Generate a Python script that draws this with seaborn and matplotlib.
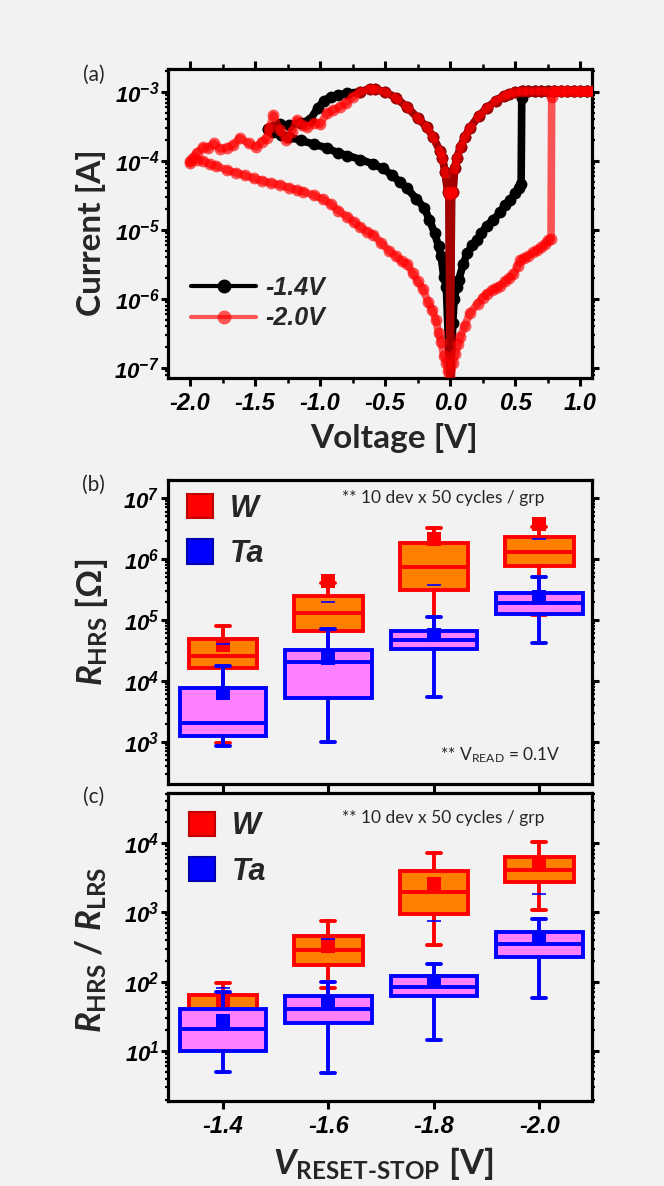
import numpy as np
import pandas as pd
import matplotlib
matplotlib.use("Agg")
import matplotlib.pyplot as plt
import seaborn as sns
from matplotlib.patches import Patch
from matplotlib.lines import Line2D
from matplotlib.ticker import FuncFormatter, LogLocator, MultipleLocator, FixedLocator, NullFormatter

# ---------------- (a) I-V sweeps ----------------
# -1.4V reset stop (black): reset sweep, HRS return, set sweep
blk_reset_v = [0.0, -0.01, -0.02, -0.04, -0.06, -0.08, -0.13, -0.18, -0.25, -0.33, -0.42, -0.50,
               -0.58, -0.62, -0.69, -0.79, -0.86, -0.92, -0.97, -1.02, -1.08, -1.15, -1.24, -1.31,
               -1.36, -1.40]
blk_reset_i = [5e-8, 3.3e-5, 3.6e-5, 7.0e-5, 1.1e-4, 1.4e-4, 2.2e-4, 3.1e-4, 4.2e-4, 6.0e-4, 8.3e-4, 1.0e-3,
               1.1e-3, 1.12e-3, 1.0e-3, 9.6e-4, 9.0e-4, 8.5e-4, 7.5e-4, 5.8e-4, 3.9e-4, 3.6e-4, 3.3e-4, 3.4e-4,
               3.1e-4, 2.9e-4]
blk_hrs_v = [-1.40, -1.36, -1.30, -1.24, -1.15, -1.05, -0.95, -0.86, -0.79, -0.69, -0.59, -0.52, -0.45,
             -0.39, -0.33, -0.26, -0.20, -0.16, -0.12, -0.09, -0.07, -0.05, -0.03, 0.0]
blk_hrs_i = [2.9e-4, 2.6e-4, 2.4e-4, 2.2e-4, 2.0e-4, 1.75e-4, 1.55e-4, 1.3e-4, 1.2e-4, 1.05e-4, 9.0e-5, 7.8e-5,
             6.3e-5, 5.0e-5, 4.0e-5, 2.8e-5, 2.1e-5, 1.4e-5, 9e-6, 5.8e-6, 4.2e-6, 2.1e-6, 1.5e-6, 5e-8]
blk_set_v = [0.0, 0.02, 0.03, 0.05, 0.065, 0.10, 0.13, 0.17, 0.205, 0.24, 0.28, 0.33, 0.385, 0.42, 0.46,
             0.50, 0.53, 0.545, 0.55, 0.56, 0.60, 0.65, 0.70, 0.75, 0.80, 0.85, 0.90, 0.95, 1.00, 1.05, 1.10]
blk_set_i = [5e-8, 4.5e-7, 1.0e-6, 1.5e-6, 1.9e-6, 3.2e-6, 4.6e-6, 6.0e-6, 7.2e-6, 9e-6, 1.15e-5, 1.4e-5,
             1.8e-5, 2.3e-5, 2.7e-5, 3.4e-5, 4.0e-5, 4.7e-5, 8.2e-4, 1.02e-3, 1.02e-3, 1.02e-3, 1.02e-3,
             1.02e-3, 1.02e-3, 1.02e-3, 1.02e-3, 1.02e-3, 1.02e-3, 1.02e-3, 1.02e-3]

# -2.0V reset stop (red)
red_reset_v = [0.0, -0.01, -0.02, -0.04, -0.06, -0.08, -0.13, -0.18, -0.25, -0.33, -0.42, -0.50, -0.58,
               -0.62, -0.69, -0.75, -0.80, -0.85, -0.90, -0.95, -1.00, -1.05, -1.10, -1.14, -1.18, -1.22,
               -1.26, -1.31, -1.36, -1.39, -1.41, -1.45, -1.49, -1.55, -1.62, -1.67, -1.72, -1.77, -1.82,
               -1.86, -1.90, -1.95, -2.0]
red_reset_i = [5e-8, 3.3e-5, 3.6e-5, 7.0e-5, 1.1e-4, 1.4e-4, 2.2e-4, 3.1e-4, 4.2e-4, 6.0e-4, 8.3e-4, 1.0e-3,
               1.1e-3, 1.12e-3, 1.0e-3, 8.5e-4, 7.0e-4, 6.1e-4, 5.5e-4, 4.9e-4, 3.4e-4, 3.6e-4, 3.1e-4,
               3.3e-4, 3.9e-4, 2.6e-4, 2.0e-4, 2.8e-4, 4.6e-4, 3.0e-4, 2.15e-4, 1.9e-4, 1.6e-4, 1.8e-4,
               2.15e-4, 1.7e-4, 1.55e-4, 1.5e-4, 1.8e-4, 1.55e-4, 1.6e-4, 1.3e-4, 1.0e-4]
red_hrs_v = [-2.0, -1.98, -1.95, -1.90, -1.85, -1.80, -1.72, -1.65, -1.58, -1.51, -1.45, -1.38, -1.31,
             -1.24, -1.18, -1.13, -1.05, -0.98, -0.92, -0.86, -0.79, -0.74, -0.69, -0.64, -0.59, -0.53,
             -0.47, -0.42, -0.37, -0.33, -0.29, -0.25, -0.21, -0.17, -0.14, -0.11, -0.09, -0.07, -0.05,
             -0.03, -0.02, 0.0]
red_hrs_i = [9.3e-5, 1.1e-4, 1.05e-4, 1.0e-4, 9.0e-5, 8.5e-5, 7.4e-5, 6.8e-5, 6.2e-5, 5.6e-5, 5.2e-5, 4.8e-5,
             4.5e-5, 4.1e-5, 3.8e-5, 3.6e-5, 3.2e-5, 2.8e-5, 2.4e-5, 1.9e-5, 1.55e-5, 1.3e-5, 1.1e-5,
             9.5e-6, 8.5e-6, 6.5e-6, 5.0e-6, 4.2e-6, 3.5e-6, 3.2e-6, 2.4e-6, 1.8e-6, 1.4e-6, 9e-7, 7e-7,
             5e-7, 3.2e-7, 2.4e-7, 1.5e-7, 1.2e-7, 9e-8, 5e-8]
red_set_v = [0.0, 0.02, 0.04, 0.06, 0.077, 0.11, 0.15, 0.21, 0.25, 0.28, 0.32, 0.355, 0.385, 0.42, 0.45,
             0.485, 0.52, 0.54, 0.57, 0.60, 0.64, 0.67, 0.70, 0.73, 0.755, 0.775, 0.78, 0.80, 0.85, 0.90,
             0.95, 1.00, 1.05, 1.10]
red_set_i = [5e-8, 1.2e-7, 1.6e-7, 2.2e-7, 2.8e-7, 4.0e-7, 6.2e-7, 8.5e-7, 1.05e-6, 1.2e-6, 1.35e-6, 1.45e-6,
             1.55e-6, 1.8e-6, 2.0e-6, 2.3e-6, 3.0e-6, 3.7e-6, 3.9e-6, 4.2e-6, 4.8e-6, 5.1e-6, 5.6e-6,
             6.2e-6, 7.2e-6, 7.5e-6, 8.5e-4, 1.02e-3, 1.02e-3, 1.02e-3, 1.02e-3, 1.02e-3, 1.02e-3, 1.02e-3]

# LRS return sweep (1.1V -> 0), the two curves lie on top of each other here
lrs_back_v = [1.10, 1.05, 1.00, 0.95, 0.90, 0.85, 0.80, 0.75, 0.70, 0.65, 0.60, 0.55, 0.50, 0.45, 0.41,
              0.35, 0.28, 0.22, 0.15, 0.11, 0.08, 0.05, 0.035, 0.02, 0.01, 0.0]
lrs_back_i = [1.02e-3, 1.02e-3, 1.02e-3, 1.02e-3, 1.02e-3, 1.02e-3, 1.02e-3, 1.02e-3, 1.02e-3, 1.02e-3,
              1.02e-3, 1.02e-3, 1.0e-3, 9.5e-4, 8.8e-4, 7.5e-4, 5.8e-4, 4.5e-4, 3.0e-4, 2.2e-4, 1.6e-4,
              1.1e-4, 8e-5, 3.5e-5, 3.4e-5, 5e-8]

# ---------------- (b), (c) box statistics ----------------
groups = ["-1.4", "-1.6", "-1.8", "-2.0"]

hrs_w_q1 = [1.6e4, 6.7e4, 3.1e5, 7.7e5]
hrs_w_med = [2.6e4, 1.3e5, 7.4e5, 1.3e6]
hrs_w_q3 = [4.9e4, 2.5e5, 1.8e6, 2.3e6]
hrs_w_lo = [9.6e2, 3.0e4, 5.0e4, 1.2e5]
hrs_w_hi = [8.0e4, 4.0e5, 3.2e6, 3.4e6]
hrs_w_mean = [3.9e4, 4.3e5, 2.1e6, 3.8e6]
hrs_w_dash = [4.1e4, 2.0e5, 3.7e5, 2.1e6]

hrs_ta_q1 = [1.27e3, 5.2e3, 3.4e4, 1.27e5]
hrs_ta_med = [2.05e3, 2.05e4, 4.7e4, 1.9e5]
hrs_ta_q3 = [7.7e3, 3.2e4, 6.5e4, 2.8e5]
hrs_ta_lo = [8.6e2, 1.0e3, 5.4e3, 4.2e4]
hrs_ta_hi = [1.74e4, 7.2e4, 1.1e5, 5.1e5]
hrs_ta_mean = [6.3e3, 2.4e4, 5.6e4, 2.4e5]

ratio_w_q1 = [25, 173, 935, 2.7e3]
ratio_w_med = [38, 286, 1.95e3, 4.1e3]
ratio_w_q3 = [64, 460, 4.0e3, 6.3e3]
ratio_w_lo = [12, 81, 340, 1.07e3]
ratio_w_hi = [97, 745, 7.2e3, 1.02e4]
ratio_w_mean = [53, 330, 2.6e3, 4.9e3]
ratio_w_dash = [80, 415, 760, 1.86e3]

ratio_ta_q1 = [10, 25, 62, 230]
ratio_ta_med = [21, 41, 85, 346]
ratio_ta_q3 = [41, 62, 121, 525]
ratio_ta_lo = [5.0, 4.9, 14.4, 58]
ratio_ta_hi = [71, 100, 180, 810]
ratio_ta_mean = [27, 51, 101, 425]

# ---------------- style ----------------
sns.set_theme(style="ticks")
BG = "#f2f2f2"
plt.rcParams.update({
    "figure.facecolor": BG,
    "axes.facecolor": BG,
    "axes.edgecolor": "black",
    "axes.linewidth": 2.3,
    "font.weight": "bold",
    "font.style": "italic",
    "axes.unicode_minus": False,
    "mathtext.fontset": "custom",
    "mathtext.rm": "Lato:bold:roman",
    "mathtext.it": "Lato:bold:italic",
    "mathtext.bf": "Lato:bold:roman",
    "xtick.color": "black",
    "ytick.color": "black",
})
plt.rcParams["font.family"] = ["Liberation Sans", "DejaVu Sans"]

FW, FH = 664, 1186
fig = plt.figure(figsize=(FW / 100, FH / 100), dpi=100)


def rect(l, t, r, b):
    return [l / FW, 1 - b / FH, (r - l) / FW, (b - t) / FH]


def fxy(x, y):
    return x / FW, 1 - y / FH


LABEL = dict(family=["Lato", "DejaVu Sans"], weight="bold", style="normal")
NOTE = dict(family=["Lato", "DejaVu Sans"], weight="normal", style="normal")

axa = fig.add_axes(rect(168, 69, 592, 378))
axb = fig.add_axes(rect(168, 480, 592, 784))
axc = fig.add_axes(rect(168, 793, 592, 1101))

log_fmt = FuncFormatter(lambda v, p: r"$\mathregular{10^{%d}}$" % int(round(np.log10(v))))


def style_log_y(ax, lo, hi):
    ax.set_yscale("log")
    ax.set_ylim(lo, hi)
    ax.yaxis.set_major_locator(LogLocator(base=10, numticks=20))
    ax.yaxis.set_minor_locator(LogLocator(base=10, subs=np.arange(2, 10), numticks=20))
    ax.yaxis.set_major_formatter(log_fmt)
    ax.yaxis.set_minor_formatter(NullFormatter())
    ax.tick_params(axis="y", which="major", direction="out", length=5, width=2.2,
                   labelsize=16, pad=1, right=True)
    ax.tick_params(axis="y", which="minor", direction="out", length=2.5, width=1.6, right=True)
    for s in ax.spines.values():
        s.set_linewidth(2.3)


# ---------------- (a) ----------------
curves = [
    ("-1.4V", blk_reset_v + blk_hrs_v + blk_set_v + lrs_back_v,
     blk_reset_i + blk_hrs_i + blk_set_i + lrs_back_i, "black", 1.0),
    ("-2.0V", red_reset_v + red_hrs_v + red_set_v + lrs_back_v,
     red_reset_i + red_hrs_i + red_set_i + lrs_back_i, "#ff0000", 0.65),
]
for name, v, i, col, al in curves:
    df = pd.DataFrame({"V": v, "I": i})
    sns.lineplot(data=df, x="V", y="I", sort=False, estimator=None, ax=axa, color=col,
                 alpha=al, lw=5.5, marker="o", markersize=8.5, markeredgecolor=col,
                 markeredgewidth=0, legend=False, zorder=3)

style_log_y(axa, 10 ** -7.145, 10 ** -2.667)
axa.set_xlim(-2.17, 1.09)
axa.xaxis.set_major_locator(MultipleLocator(0.5))
axa.xaxis.set_minor_locator(MultipleLocator(0.25))
axa.xaxis.set_major_formatter(FuncFormatter(lambda v, p: f"{v:.1f}"))
axa.tick_params(axis="x", which="major", direction="out", length=6, width=2.2,
                labelsize=17, pad=4, top=True)
axa.tick_params(axis="x", which="minor", direction="out", length=3.5, width=1.8, top=True)
axa.set_xlabel("")
axa.set_ylabel("")

leg_handles = [
    Line2D([], [], color="black", lw=3, marker="o", markersize=10, markeredgewidth=0),
    Line2D([], [], color="#ff0000", alpha=0.65, lw=3, marker="o", markersize=10, markeredgewidth=0),
]
axa.legend(leg_handles, ["-1.4V", "-2.0V"], loc="upper left", bbox_to_anchor=(0.055, 0.33),
           frameon=False, borderaxespad=0, borderpad=0, handlelength=2.6, handletextpad=0.35,
           labelspacing=0.25, prop=dict(family="Liberation Sans", weight="bold", style="italic", size=18))

# ---------------- (b), (c) ----------------
pos = np.arange(len(groups))


def draw_group(ax, q1, med, q3, lo, hi, mean, width, face, edge, z):
    stats = [dict(q1=q1[k], med=med[k], q3=q3[k], whislo=lo[k], whishi=hi[k], fliers=[])
             for k in range(len(groups))]
    ax.bxp(stats, positions=pos, widths=width, capwidths=0.13, patch_artist=True,
           showfliers=False, manage_ticks=False, zorder=z,
           boxprops=dict(facecolor=face, edgecolor=edge, linewidth=2.8),
           medianprops=dict(color=edge, linewidth=2.8),
           whiskerprops=dict(color=edge, linewidth=2.8),
           capprops=dict(color=edge, linewidth=2.8))
    sns.scatterplot(x=pos, y=mean, ax=ax, marker="s", s=95, color=edge, edgecolor=edge,
                    linewidth=0, zorder=z + 0.2, legend=False)


def legend_wta(ax, anchor):
    h = [Patch(facecolor="#ff0000", edgecolor="#c00000", linewidth=1.5),
         Patch(facecolor="#0000ff", edgecolor="#0000b0", linewidth=1.5)]
    ax.legend(h, ["W", "Ta"], loc="upper left", bbox_to_anchor=anchor, frameon=False,
              borderaxespad=0, borderpad=0, handlelength=0.85, handleheight=0.85,
              handletextpad=0.55, labelspacing=0.5,
              prop=dict(family="Liberation Sans", weight="bold", style="italic", size=22))


for ax, w_stats, ta_stats, ylo, yhi in [
    (axb, (hrs_w_q1, hrs_w_med, hrs_w_q3, hrs_w_lo, hrs_w_hi, hrs_w_mean, hrs_w_dash),
     (hrs_ta_q1, hrs_ta_med, hrs_ta_q3, hrs_ta_lo, hrs_ta_hi, hrs_ta_mean), 10 ** 2.31, 10 ** 7.295),
    (axc, (ratio_w_q1, ratio_w_med, ratio_w_q3, ratio_w_lo, ratio_w_hi, ratio_w_mean, ratio_w_dash),
     (ratio_ta_q1, ratio_ta_med, ratio_ta_q3, ratio_ta_lo, ratio_ta_hi, ratio_ta_mean), 10 ** 0.28, 10 ** 4.72),
]:
    draw_group(ax, *w_stats[:6], width=0.65, face="#ff8000", edge="#ff0000", z=3)
    sns.scatterplot(x=pos, y=w_stats[6], ax=ax, marker="_", s=110, color="#0000ff",
                    linewidth=1.2, zorder=3.3, legend=False)
    draw_group(ax, *ta_stats, width=0.82, face="#ff80ff", edge="#0000ff", z=4)
    style_log_y(ax, ylo, yhi)
    ax.set_xlim(-0.52, 3.50)
    ax.xaxis.set_major_locator(FixedLocator(pos))
    ax.set_xlabel("")
    ax.set_ylabel("")

axb.tick_params(axis="x", which="major", direction="out", length=6, width=2.2, labelbottom=False)
axc.tick_params(axis="x", which="major", direction="out", length=6, width=2.2, labelsize=17, pad=4)
axc.set_xticklabels(groups)
axb.xaxis.set_minor_locator(FixedLocator([]))
axc.xaxis.set_minor_locator(FixedLocator([]))

legend_wta(axb, (0.045, 0.955))
legend_wta(axc, (0.05, 0.94))

# ---------------- texts ----------------
fig.text(*fxy(94, 75), "(a)", ha="center", va="center", size=15, **NOTE)
fig.text(*fxy(93, 485), "(b)", ha="center", va="center", size=15, **NOTE)
fig.text(*fxy(94, 797), "(c)", ha="center", va="center", size=15, **NOTE)

fig.text(*fxy(91, 233), "Current [A]", rotation=90, ha="center", va="center", size=24, **LABEL)
fig.text(*fxy(394, 438), "Voltage [V]", ha="center", va="center", size=24, **LABEL)
fig.text(*fxy(91, 622), r"$\mathit{R}_{\mathrm{HRS}}$ [Ω]", rotation=90, ha="center", va="center",
         size=25, **LABEL)
fig.text(*fxy(91, 950), r"$\mathit{R}_{\mathrm{HRS}}$ / $\mathit{R}_{\mathrm{LRS}}$", rotation=90,
         ha="center", va="center", size=25, **LABEL)
fig.text(*fxy(383, 1163), r"$\mathit{V}_{\mathrm{RESET\text{-}STOP}}$ [V]", ha="center", va="center",
         size=25, **LABEL)

fig.text(*fxy(443, 498), "** 10 dev x 50 cycles / grp", ha="center", va="center", size=12.5, **NOTE)
fig.text(*fxy(443, 818), "** 10 dev x 50 cycles / grp", ha="center", va="center", size=12.5, **NOTE)
fig.text(*fxy(500, 755), r"** V$_{\mathregular{READ}}$ = 0.1V", ha="center", va="center", size=12.5, **NOTE)

fig.savefig("out.png", dpi=100, facecolor=BG)
